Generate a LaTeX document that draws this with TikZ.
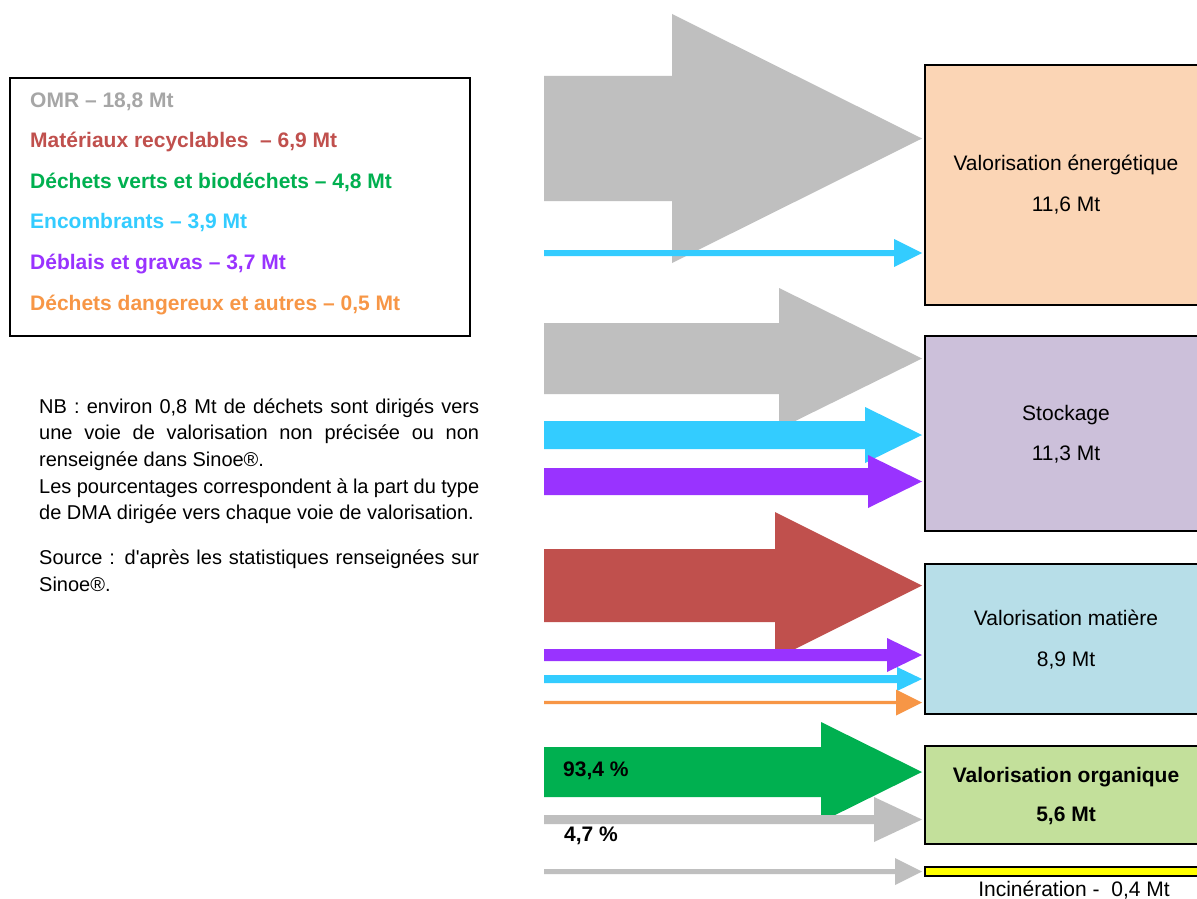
\documentclass[tikz,border=0pt]{standalone}
\usepackage{fontspec}
\setmainfont{Liberation Sans}[Ligatures=TeXOff]
\definecolor{cgray}{HTML}{BFBFBF}
\definecolor{ccyan}{HTML}{33CCFF}
\definecolor{cpurple}{HTML}{9933FF}
\definecolor{cred}{HTML}{C0504D}
\definecolor{corange}{HTML}{F79646}
\definecolor{cgreen}{HTML}{00B050}
\definecolor{tgray}{HTML}{A6A6A6}
\definecolor{bpeach}{HTML}{FBD5B5}
\definecolor{blav}{HTML}{CCC0DA}
\definecolor{bblue}{HTML}{B7DEE8}
\definecolor{bgreen}{HTML}{C3E09B}
\definecolor{byellow}{HTML}{FFFF00}
% color, x0, yc, halfshaft, headx, halfhead, tipx
\newcommand{\fatarrow}[7]{%
  \fill[#1] (#2,#3-#4) -- (#5,#3-#4) -- (#5,#3-#6) -- (#7,#3) -- (#5,#3+#6) -- (#5,#3+#4) -- (#2,#3+#4) -- cycle;}
\begin{document}
\begin{tikzpicture}[x=1pt,y=-1pt,
  lgtext/.style={anchor=base west,inner sep=0pt,font=\fontsize{21}{25}\selectfont\bfseries},
  boxtext/.style={anchor=base,inner sep=0pt,font=\fontsize{21}{25}\selectfont},
  destbox/.style={draw=black,line width=1.8pt,anchor=north west,minimum width=300pt,inner sep=0pt},
  pct/.style={anchor=base west,inner sep=0pt,font=\fontsize{21}{25}\selectfont\bfseries}]
\useasboundingbox (0,0) rectangle (1197,899);
\clip (0,0) rectangle (1197,899);
\fill[white] (0,0) rectangle (1197,899);

% legend
\node[draw=black,line width=1.8pt,anchor=north west,minimum width=460pt,minimum height=258pt,inner sep=0pt] (legend) at (9,77) {};
\node[lgtext,text=tgray] (l1) at (30,107) {OMR – 18,8 Mt};
\node[lgtext,text=cred] (l2) at (30,147) {Matériaux recyclables\ \ – 6,9 Mt};
\node[lgtext,text=cgreen] (l3) at (30,188) {Déchets verts et biodéchets – 4,8 Mt};
\node[lgtext,text=ccyan] (l4) at (30,228) {Encombrants – 3,9 Mt};
\node[lgtext,text=cpurple] (l5) at (30,269) {Déblais et gravas – 3,7 Mt};
\node[lgtext,text=corange] (l6) at (30,310) {Déchets dangereux et autres – 0,5 Mt};

% note
\node[anchor=base west,inner sep=0pt] (nb) at (39,413) {\parbox[t]{440pt}{\fontsize{20}{26.7}\selectfont\hyphenpenalty=10000\tolerance=9999
NB : environ 0,8 Mt de déchets sont dirigés vers\linebreak une voie de valorisation non précisée ou non\linebreak renseignée dans Sinoe®.\par
Les pourcentages correspondent à la part du type\linebreak de DMA dirigée vers chaque voie de valorisation.\par\vspace{18pt}
Source : d'après les statistiques renseignées sur\linebreak Sinoe®.}};

% destination boxes
\node[destbox,fill=bpeach,minimum height=240pt] (e1) at (924,64) {};
\node[destbox,fill=blav,minimum height=195pt] (e2) at (924,335) {};
\node[destbox,fill=bblue,minimum height=150pt] (e3) at (924,563) {};
\node[destbox,fill=bgreen,minimum height=98pt] (e4) at (924,745) {};
\node[destbox,fill=byellow,minimum height=9pt] (e5) at (924,866) {};

\node[boxtext] (t1a) at (1066,170) {Valorisation énergétique};
\node[boxtext] (t1b) at (1066,211) {11,6 Mt};
\node[boxtext] (t2a) at (1066,420) {Stockage};
\node[boxtext] (t2b) at (1066,460) {11,3 Mt};
\node[boxtext] (t3a) at (1066,625) {Valorisation matière};
\node[boxtext] (t3b) at (1066,666) {8,9 Mt};
\node[boxtext,font=\fontsize{21}{25}\selectfont\bfseries] (t4a) at (1066,782) {Valorisation organique};
\node[boxtext,font=\fontsize{21}{25}\selectfont\bfseries] (t4b) at (1066,821) {5,6 Mt};
\node[boxtext] (t5) at (1074,896) {Incinération -\ \ 0,4 Mt};

% flows
\fatarrow{cgray}{544}{138.5}{62.5}{672}{124.5}{922}
\fatarrow{ccyan}{544}{253}{3}{894}{14}{922}
\fatarrow{cgray}{544}{358.5}{35.5}{779}{70.5}{922}
\fatarrow{ccyan}{544}{435}{14}{865}{28}{922}
\fatarrow{cpurple}{544}{481.5}{13.5}{868}{26.5}{922}
\fatarrow{cred}{544}{585.5}{36.5}{775}{73.5}{922}
\fatarrow{cpurple}{544}{655}{6}{887}{17}{922}
\fatarrow{ccyan}{544}{679}{4}{897}{12}{922}
\fatarrow{corange}{544}{702.5}{1.7}{896}{13}{922}
\fatarrow{cgreen}{544}{772}{25}{821}{50}{922}
\fatarrow{cgray}{544}{819.5}{4.5}{874}{22.5}{922}
\fatarrow{cgray}{544}{871.5}{2.5}{895}{13.5}{922}

\node[pct] (p1) at (563,776) {93,4 \%};
\node[pct] (p2) at (564,841) {4,7 \%};
\end{tikzpicture}
\end{document}
